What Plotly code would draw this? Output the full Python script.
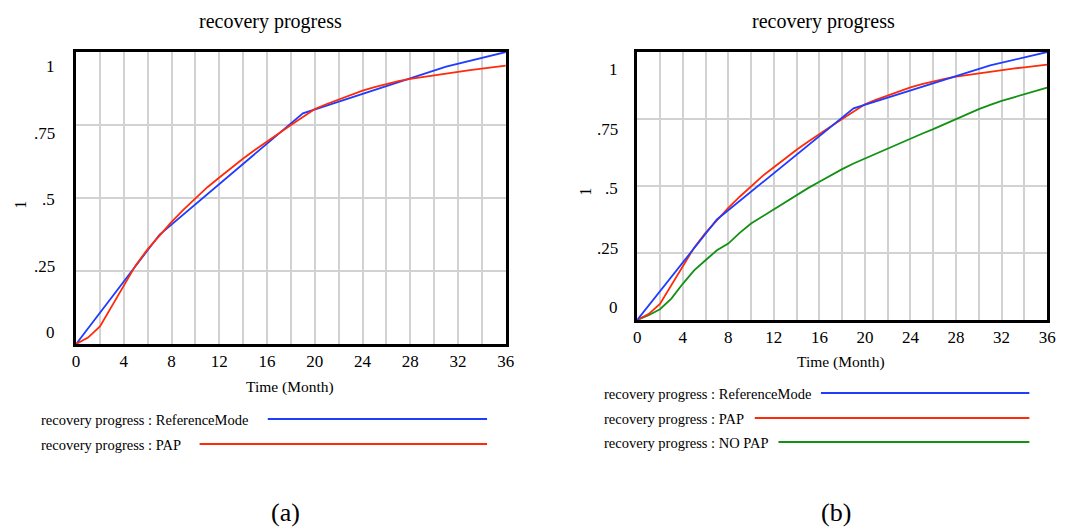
import plotly.graph_objects as go

# ---- data -------------------------------------------------------------
months = list(range(37))

# reference mode (piecewise linear lookup)
ref_months = [0, 7, 19, 31, 36]
ref_values = [0.0, 0.375, 0.79, 0.95, 1.0]

# simulated recovery progress with PAP
pap = [0.0, 0.022, 0.06, 0.13, 0.205, 0.27, 0.325, 0.372, 0.418, 0.46,
       0.5, 0.537, 0.57, 0.603, 0.635, 0.665, 0.695, 0.722, 0.75, 0.776,
       0.805, 0.822, 0.838, 0.853, 0.868, 0.88, 0.891, 0.9, 0.908, 0.914,
       0.92, 0.927, 0.934, 0.938, 0.943, 0.947, 0.953]

# simulated recovery progress without PAP
no_pap = [0.0, 0.018, 0.04, 0.08, 0.135, 0.185, 0.223, 0.26, 0.285, 0.325,
          0.36, 0.387, 0.412, 0.44, 0.466, 0.492, 0.516, 0.54, 0.563, 0.584,
          0.603, 0.622, 0.64, 0.66, 0.678, 0.695, 0.712, 0.731, 0.75, 0.769,
          0.787, 0.803, 0.818, 0.83, 0.843, 0.855, 0.867]

x_tick_vals = [0, 4, 8, 12, 16, 20, 24, 28, 32, 36]
x_tick_text = [str(v) for v in x_tick_vals]
y_tick_vals = [0, 0.25, 0.5, 0.75, 1]
y_tick_text = ["0", ".25", ".5", ".75", "1"]

series_names = ["recovery progress : ReferenceMode",
                "recovery progress : PAP",
                "recovery progress : NO PAP"]
panel_title = "recovery progress"
x_title = "Time (Month)"
y_title = "1"
panel_tags = ["(a)", "(b)"]

# ---- style ------------------------------------------------------------
W, H = 1068, 529
SERIF = "Liberation Serif, Times New Roman, Times, serif"
BLUE = "#1f3cff"
RED = "#ff2a0a"
GREEN = "#129112"
GRID = "#d2d2d2"


def px(x):
    return x / W


def py(y):
    return 1 - y / H


fig = go.Figure()

# panel (a): ReferenceMode + PAP ; panel (b): all three
fig.add_trace(go.Scatter(x=ref_months, y=ref_values, mode="lines",
                         line=dict(color=BLUE, width=1.8), xaxis="x", yaxis="y"))
fig.add_trace(go.Scatter(x=months, y=pap, mode="lines",
                         line=dict(color=RED, width=1.8), xaxis="x", yaxis="y"))
fig.add_trace(go.Scatter(x=months, y=no_pap, mode="lines",
                         line=dict(color=GREEN, width=1.8), xaxis="x2", yaxis="y2"))
fig.add_trace(go.Scatter(x=months, y=pap, mode="lines",
                         line=dict(color=RED, width=1.8), xaxis="x2", yaxis="y2"))
fig.add_trace(go.Scatter(x=ref_months, y=ref_values, mode="lines",
                         line=dict(color=BLUE, width=1.8), xaxis="x2", yaxis="y2"))


def xaxis_cfg(domain, anchor):
    return dict(domain=domain, anchor=anchor, range=[0, 36],
                tickmode="array", tickvals=x_tick_vals, ticktext=x_tick_text,
                tickfont=dict(family=SERIF, size=17, color="black"),
                ticks="", showgrid=True, gridcolor=GRID, gridwidth=1.5,
                minor=dict(tickmode="linear", tick0=0, dtick=2, showgrid=True,
                           gridcolor=GRID, gridwidth=1.5),
                showline=True, linecolor="black", linewidth=3, mirror=True,
                zeroline=False, fixedrange=True)


def yaxis_cfg(domain, anchor):
    return dict(domain=domain, anchor=anchor, range=[0, 1],
                tickmode="array", tickvals=[0.25, 0.5, 0.75],
                showticklabels=False, ticks="",
                showgrid=True, gridcolor=GRID, gridwidth=1.5,
                showline=True, linecolor="black", linewidth=2.5, mirror=True,
                zeroline=False, fixedrange=True)


fig.update_layout(
    width=W, height=H,
    margin=dict(l=0, r=0, t=0, b=0),
    paper_bgcolor="white", plot_bgcolor="white",
    showlegend=False,
    xaxis=xaxis_cfg([px(73), px(508)], "y"),
    yaxis=yaxis_cfg([py(344), py(52)], "x"),
    xaxis2=xaxis_cfg([px(641), px(1056)], "y2"),
    yaxis2=yaxis_cfg([py(320), py(52)], "x2"),
)

ann = []


def text(x, y, s, size, xanchor="center", **kw):
    d = dict(x=x, y=y, xref="paper", yref="paper", text=s, showarrow=False,
             xanchor=xanchor, yanchor="middle",
             font=dict(family=SERIF, size=size, color="black"))
    d.update(kw)
    ann.append(d)


# panel titles, axis titles, tags
text(px(270), py(22), panel_title, 20)
text(px(830), py(22), panel_title, 20)
text(px(290), py(387), x_title, 15.5)
text(px(847), py(362), x_title, 15.5)
text(px(17), py(205), y_title, 16, textangle=-90)
text(px(588), py(192), y_title, 16, textangle=-90)
text(px(285), py(512), panel_tags[0], 26)
text(px(842), py(512), panel_tags[1], 26)

# y tick labels, placed inside the frame height the way the tool lays them out
for xa, ya, lo, hi, gap in [("x", "y", 0.038, 0.949, -19), ("x2", "y2", 0.045, 0.933, -17)]:
    for v, s in zip(y_tick_vals, y_tick_text):
        ann.append(dict(x=0, y=lo + v * (hi - lo), xref=f"{xa} domain", yref=f"{ya} domain",
                        text=s, showarrow=False, xanchor="right", yanchor="middle",
                        xshift=gap, font=dict(family=SERIF, size=17, color="black")))

# legends below each panel
legend_a = [(series_names[0], BLUE, 420, 267), (series_names[1], RED, 445, 198)]
legend_b = [(series_names[0], BLUE, 394, 827), (series_names[1], RED, 419, 760),
            (series_names[2], GREEN, 443, 784)]
shapes = []
for rows, x0, x1 in [(legend_a, 35, 489), (legend_b, 605, 1038)]:
    for name, color, yrow, lx in rows:
        text(px(x0), py(yrow), name, 14.5, xanchor="left")
        shapes.append(dict(type="line", xref="paper", yref="paper",
                           x0=px(lx), x1=px(x1), y0=py(yrow - 1), y1=py(yrow - 1),
                           line=dict(color=color, width=2)))

fig.update_layout(annotations=ann, shapes=shapes)

fig.write_html("out.html")
